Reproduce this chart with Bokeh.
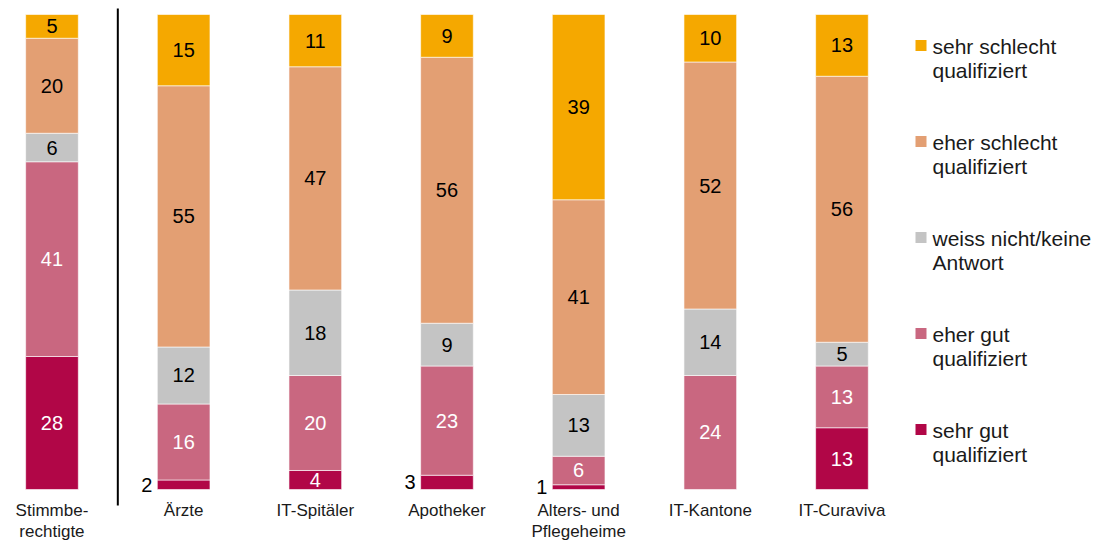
from bokeh.plotting import figure
from bokeh.models import ColumnDataSource, Range1d
from bokeh.core.properties import value
from bokeh.embed import file_html
from bokeh.resources import INLINE

# ---- data ----
categories = ["Stimmbe-\nrechtigte", "Ärzte", "IT-Spitäler", "Apotheker",
              "Alters- und\nPflegeheime", "IT-Kantone", "IT-Curaviva"]
sehr_gut = [28, 2, 4, 3, 1, 0, 13]
eher_gut = [41, 16, 20, 23, 6, 24, 13]
weiss_nicht = [6, 12, 18, 9, 13, 14, 5]
eher_schlecht = [20, 55, 47, 56, 41, 52, 56]
sehr_schlecht = [5, 15, 11, 9, 39, 10, 13]

series_keys = ["sehr_gut", "eher_gut", "weiss_nicht", "eher_schlecht", "sehr_schlecht"]
series_values = [sehr_gut, eher_gut, weiss_nicht, eher_schlecht, sehr_schlecht]
legend_labels = ["sehr gut\nqualifiziert", "eher gut\nqualifiziert",
                 "weiss nicht/keine\nAntwort", "eher schlecht\nqualifiziert",
                 "sehr schlecht\nqualifiziert"]
colors = ["#B10647", "#C96780", "#C4C4C4", "#E39F73", "#F5A800"]
label_colors = ["white", "white", "black", "black", "black"]

FONT = "Liberation Sans"
W, H = 1094, 540
X0, X1 = -0.391, 7.918
Y0, Y1 = -10.74, 102.95


def px_x(px):
    return X0 + px / W * (X1 - X0)


def px_y(py):
    return Y1 - py / H * (Y1 - Y0)


xs = list(range(len(categories)))
data = {"x": xs}
for k, v in zip(series_keys, series_values):
    data[k] = v
src = ColumnDataSource(data)

p = figure(width=W, height=H, output_backend="svg", toolbar_location=None,
           x_range=Range1d(X0, X1), y_range=Range1d(Y0, Y1),
           x_axis_location=None, y_axis_location=None, min_border=0,
           outline_line_color=None, background_fill_color="white")
p.grid.visible = False

BAR_W = 0.4
renderers = p.vbar_stack(series_keys, x="x", width=BAR_W, source=src, color=colors,
                         line_color="white", line_width=0.6)

# value labels
lx, ly, lt, lc, la, lo = [], [], [], [], [], []
for i in xs:
    base = 0
    for s, vals in enumerate(series_values):
        v = vals[i]
        if v > 0:
            if v <= 3:
                lx.append(i - BAR_W / 2); la.append("right"); lo.append(-5); lc.append("black")
            else:
                lx.append(i); la.append("center"); lo.append(0); lc.append(label_colors[s])
            ly.append(base + v / 2)
            lt.append(str(v))
        base += v
lsrc = ColumnDataSource(dict(x=lx, y=ly, text=lt, color=lc, align=la, off=lo))
p.text(x="x", y="y", text="text", source=lsrc, text_color="color", text_align="align",
       x_offset="off", text_baseline="middle", text_font=value(FONT), text_font_size="20px")

# category labels
csrc = ColumnDataSource(dict(x=xs, y=[px_y(500.5)] * len(xs), text=categories))
p.text(x="x", y="y", text="text", source=csrc, text_align="center", text_baseline="top",
       text_font=value(FONT), text_font_size="17px", text_color="#1a1a1a",
       text_line_height=1.12)

# separator between first bar and the rest
sep_x = (xs[0] + xs[1]) / 2
p.segment(x0=[sep_x], y0=[px_y(505)], x1=[sep_x], y1=[px_y(8)],
          line_color="black", line_width=2)

# legend (top to bottom: reversed stack order)
order = list(reversed(range(len(series_keys))))
leg_sq_y = [px_y(45 + 96 * k) for k in range(len(order))]
leg_tx_y = [px_y(34 + 96 * k) for k in range(len(order))]
p.scatter(x=[px_x(920.5)] * len(order), y=leg_sq_y, marker="square", size=11,
          color=[colors[s] for s in order], line_color=None)
p.text(x=[px_x(932)] * len(order), y=leg_tx_y, text=[legend_labels[s] for s in order],
       text_align="left", text_baseline="top", text_font=value(FONT),
       text_font_size="21px", text_color="#1a1a1a", text_line_height=1.05)

open("out.html", "w").write(file_html(p, INLINE))
